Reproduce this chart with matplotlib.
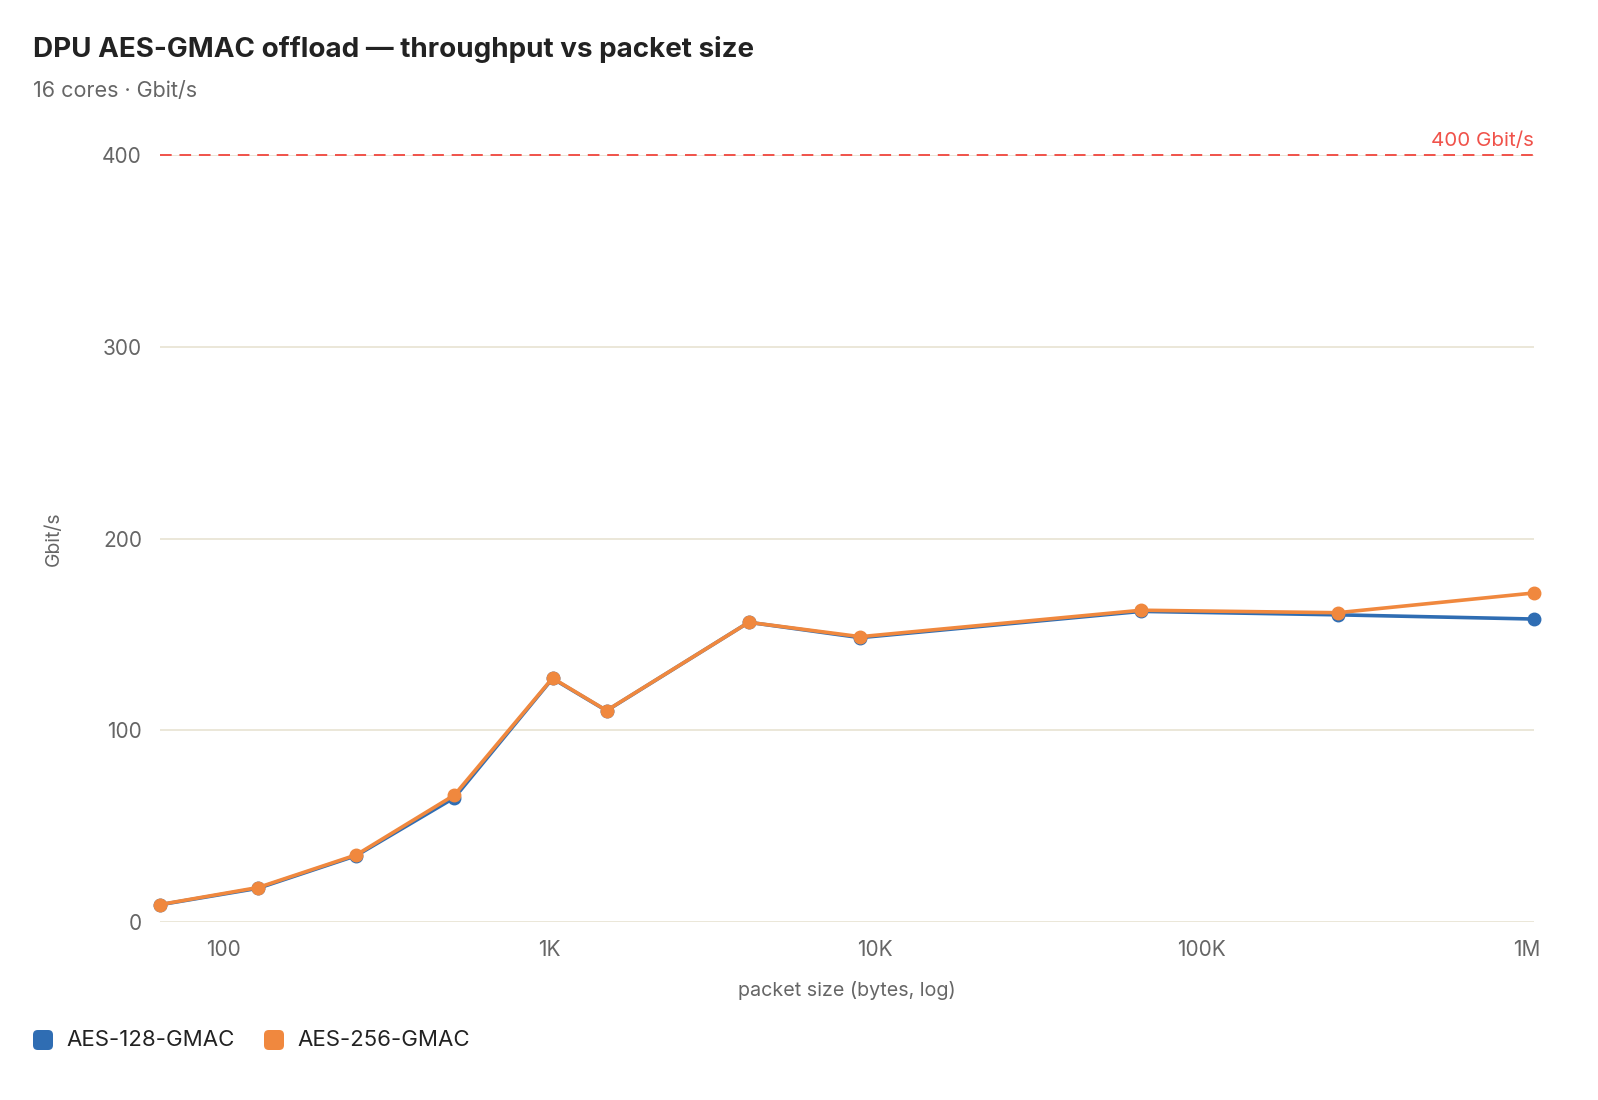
import matplotlib.pyplot as plt
from matplotlib.patches import FancyBboxPatch
from matplotlib.ticker import FixedLocator, NullLocator

plt.rcParams["font.family"] = ["Inter", "DejaVu Sans"]

packet_sizes = [64, 128, 256, 512, 1024, 1500, 4096, 9000, 65536, 262144, 1048576]
aes128_gbps = [9.0, 17.6, 34.6, 64.8, 127.0, 110.2, 156.3, 148.3, 162.0, 160.2, 158.0]
aes256_gbps = [9.1, 18.0, 35.0, 66.2, 127.2, 110.3, 156.3, 148.8, 162.6, 161.3, 171.6]
line_rate = 400
x_ticks = [100, 1000, 10000, 100000, 1000000]
x_tick_labels = ["100", "1K", "10K", "100K", "1M"]
y_ticks = [0, 100, 200, 300, 400]
series_names = ["AES-128-GMAC", "AES-256-GMAC"]

BLUE = "#2f6db3"
ORANGE = "#f0883e"
RED = "#f0524a"
GRID = "#e9e5d6"
GRAY = "#666666"

W, H = 1598, 1100
fig = plt.figure(figsize=(W / 100, H / 100), dpi=100)
ax = fig.add_axes([0.1001, 0.1618, 0.8598, 0.6973])

ax.plot(packet_sizes, aes128_gbps, color=BLUE, lw=2.6, marker="o", ms=9,
        zorder=3, clip_on=False)
ax.plot(packet_sizes, aes256_gbps, color=ORANGE, lw=2.6, marker="o", ms=9,
        zorder=4, clip_on=False)

ax.axhline(line_rate, color=RED, lw=1.4, ls=(0, (6, 4)), zorder=2, clip_on=False)
ax.text(packet_sizes[-1], line_rate + 2.5, "400 Gbit/s", color=RED, fontsize=14.8,
        ha="right", va="bottom")

ax.set_xscale("log")
ax.set_xlim(packet_sizes[0], packet_sizes[-1])
ax.set_ylim(0, 400)
ax.xaxis.set_major_locator(FixedLocator(x_ticks))
ax.xaxis.set_minor_locator(NullLocator())
ax.set_xticklabels(x_tick_labels)
ax.set_yticks(y_ticks)
ax.grid(axis="y", color=GRID, lw=1.3, zorder=0)
ax.set_axisbelow(True)
for s in ax.spines.values():
    s.set_visible(False)
ax.tick_params(length=0, labelsize=15, labelcolor=GRAY)
ax.tick_params(axis="x", pad=13)
ax.tick_params(axis="y", pad=13)

ax.set_xlabel("packet size (bytes, log)", fontsize=14.2, color=GRAY, labelpad=15)
ax.set_ylabel("Gbit/s", fontsize=14, color=GRAY, labelpad=28)

fig.text(0.0206, 0.955, "DPU AES-GMAC offload \u2014 throughput vs packet size",
         fontsize=20, fontweight="bold", color="#222222", va="center")
fig.text(0.0206, 0.917, "16 cores \u00b7 Gbit/s", fontsize=15.5, color=GRAY, va="center")

# legend drawn by hand: rounded squares + labels
leg_y = 1040
sq = 20
for x0, name, col in zip([33, 264], series_names, [BLUE, ORANGE]):
    box = FancyBboxPatch(((x0) / W, (H - leg_y - sq / 2) / H), sq / W, sq / H,
                         boxstyle="round,pad=0,rounding_size=0.003",
                         transform=fig.transFigure, facecolor=col, edgecolor="none",
                         mutation_aspect=W / H)
    fig.patches.append(box)
    fig.text((x0 + 33) / W, (H - leg_y) / H, name, fontsize=16, color="#222222",
             va="center", ha="left")

fig.savefig("out.png", dpi=100)
